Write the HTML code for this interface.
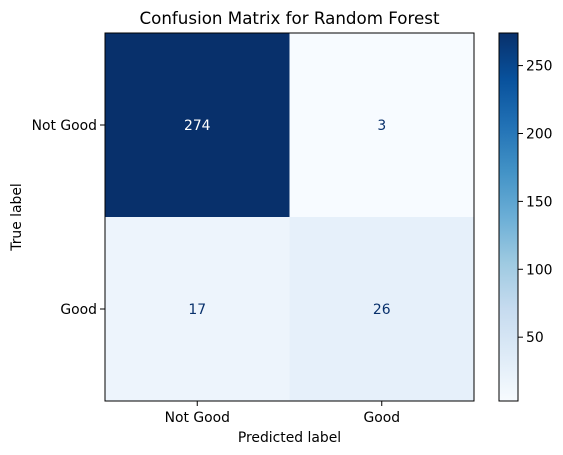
<!DOCTYPE html>
<html><head><meta charset="utf-8"><style>
body{margin:0;background:#fff;}
svg{display:block;font-family:"DejaVu Sans","Liberation Sans",sans-serif;}
</style></head><body>
<svg width="563" height="455" id="c"></svg>
<script>
const classes=["Not Good","Good"];
const matrix=[[274,3],[17,26]];
const cbTicks=[50,100,150,200,250];
const title="Confusion Matrix for Random Forest";

const NS="http://www.w3.org/2000/svg";
const svg=document.getElementById('c');
function mk(t,a,txt){const e=document.createElementNS(NS,t);for(const k in a)e.setAttribute(k,a[k]);if(txt!==undefined)e.textContent=txt;svg.appendChild(e);return e;}
const stops=["#f7fbff","#deebf7","#c6dbef","#9ecae1","#6baed6","#4292c6","#2171b5","#08519c","#08306b"];
function hex(h){return [1,3,5].map(i=>parseInt(h.substr(i,2),16));}
function cmap(t){t=Math.max(0,Math.min(1,t));const p=t*8,i=Math.min(7,Math.floor(p)),f=p-i;const a=hex(stops[i]),b=hex(stops[i+1]);return "rgb("+a.map((v,k)=>Math.round(v+(b[k]-v)*f)).join(",")+")";}
const flat=matrix.flat();const vmin=Math.min(...flat),vmax=Math.max(...flat);
const L=105,T=33,R=474,B=401;
const n=classes.length,cw=(R-L)/n,ch=(B-T)/n;
const xc=i=>L+cw*(i+0.5),yc=i=>T+ch*(i+0.5);
const FS=13.9;
mk('text',{x:(L+R)/2,y:24,'text-anchor':'middle','font-size':'16.7',fill:'#000',},title);
for(let r=0;r<n;r++)for(let c=0;c<n;c++){
  const v=matrix[r][c],t=(v-vmin)/(vmax-vmin);
  const e=mk('rect',{x:L+cw*c,y:T+ch*r,width:cw,height:ch,fill:cmap(t)});
  
  
  const tx=mk('text',{x:xc(c),y:yc(r)+5,'text-anchor':'middle','font-size':FS,fill:t>0.5?'#fff':'#08306b'},String(v));
  
  
}
mk('rect',{x:L,y:T,width:R-L,height:B-T,fill:'none',stroke:'#000','stroke-width':1,});
classes.forEach((cl,i)=>{
  mk('line',{x1:xc(i),x2:xc(i),y1:B,y2:B+5,stroke:'#000'});
  const a=mk('text',{x:xc(i),y:B+21,'text-anchor':'middle','font-size':FS,fill:'#000'},cl);
  
  mk('line',{x1:L-5,x2:L,y1:yc(i),y2:yc(i),stroke:'#000'});
  const b=mk('text',{x:L-8,y:yc(i)+5,'text-anchor':'end','font-size':FS,fill:'#000'},cl);
  
});
mk('text',{x:(L+R)/2,y:442,'text-anchor':'middle','font-size':FS,fill:'#000',},'Predicted label');
mk('text',{x:21,y:(T+B)/2,'text-anchor':'middle','font-size':FS,fill:'#000',transform:'rotate(-90 21 '+((T+B)/2)+')',},'True label');
const CL=499,CR=518;
const defs=mk('defs',{});
const g=document.createElementNS(NS,'linearGradient');g.setAttribute('id','gr');g.setAttribute('x1','0');g.setAttribute('y1','1');g.setAttribute('x2','0');g.setAttribute('y2','0');
stops.forEach((s,i)=>{const st=document.createElementNS(NS,'stop');st.setAttribute('offset',i/8);st.setAttribute('stop-color',s);g.appendChild(st);});
defs.appendChild(g);
mk('rect',{x:CL,y:T,width:CR-CL,height:B-T,fill:'url(#gr)',stroke:'#000','stroke-width':1,});
const cy=v=>B-(v-vmin)/(vmax-vmin)*(B-T);
cbTicks.forEach(v=>{
  mk('line',{x1:CR,x2:CR+5,y1:cy(v),y2:cy(v),stroke:'#000'});
  const t=mk('text',{x:CR+8,y:cy(v)+5,'font-size':FS,fill:'#000'},String(v));
  
});
</script>
</body></html>
